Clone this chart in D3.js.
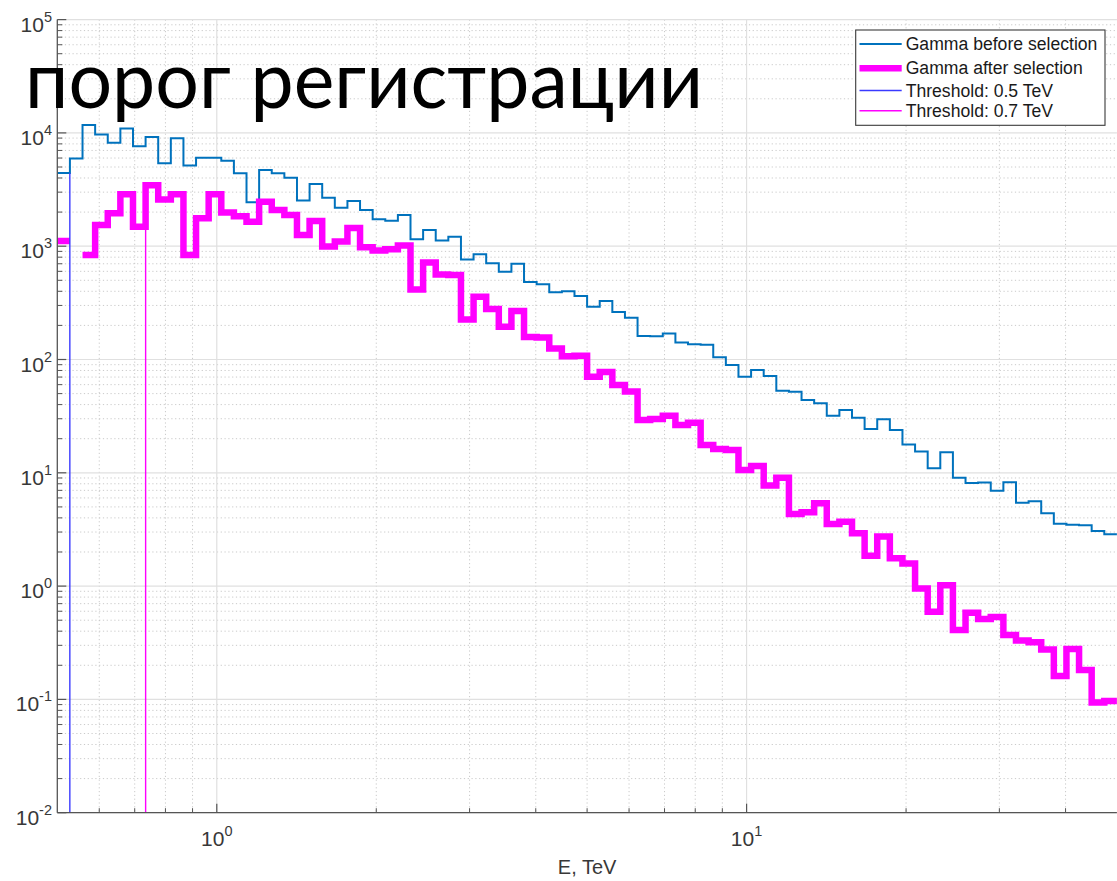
<!DOCTYPE html>
<html>
<head>
<meta charset="utf-8">
<script src="https://cdn.jsdelivr.net/npm/d3@7"></script>
<style>
  html, body { margin: 0; padding: 0; background: #fff; }
  svg { display: block; }
</style>
</head>
<body>
<svg id="chart" width="1117" height="881"></svg>
<script>
// Energy binning: logarithmic bins starting at 0.5 TeV
const energyMin = 0.5;
const energyMax = 50;
const binsPerDecade = 42;

// Counts per energy bin, before any event selection
const beforeCounts = [
  4430, 5940, 11740, 9680, 8200, 10940, 7620, 9200, 5390, 8960,
  5160, 6050, 6020, 5680, 4400, 2440, 4700, 4400, 4020, 2530,
  3540, 2680, 2190, 2510, 2090, 1730, 1680, 1890, 1150, 1390,
  1120, 1210, 763, 850, 706, 595, 701, 483, 461, 392,
  400, 363, 292, 328, 263, 234, 161, 160, 170, 141,
  136, 135, 104.6, 89.4, 70.5, 80.8, 71.5, 53.0, 52.0, 43.9,
  41.1, 31.9, 35.8, 30.6, 24.4, 29.7, 23.9, 17.8, 15.4, 10.96,
  15.2, 9.05, 8.13, 8.21, 6.95, 8.25, 5.45, 5.60, 4.39, 3.55,
  3.48, 3.44, 3.06, 2.87
];

// Counts per energy bin after the selection cuts (0 = empty bin)
const afterCounts = [
  1111, 0, 836, 1538, 1952, 2871, 1486, 3448, 2584, 2871,
  836, 1763, 2880, 1984, 1836, 1645, 2471, 2087, 1886, 1256,
  1669, 994, 1100, 1447, 978, 916, 939, 1014, 415, 718,
  563, 557, 225, 358, 279, 195, 268, 158, 156, 125,
  107, 108, 70.5, 77.6, 59.5, 52.2, 29.2, 29.8, 31.9, 26.4,
  27.7, 17.6, 16.2, 15.9, 10.6, 11.5, 7.73, 9.05, 4.33, 4.48,
  5.38, 3.53, 3.70, 2.92, 1.85, 2.74, 1.76, 1.58, 0.952, 0.594,
  1.02, 0.410, 0.582, 0.513, 0.534, 0.370, 0.331, 0.319, 0.276, 0.161,
  0.278, 0.182, 0.0939, 0.0968
];

// Registration thresholds, TeV
const thresholdEnergies = [0.528, 0.734];

const seriesNames = ["Gamma before selection", "Gamma after selection"];
const yTickExponents = [-2, -1, 0, 1, 2, 3, 4, 5];
const xTickExponents = [0, 1];
const xAxisTitle = "E, TeV";
const slideTitle = "порог регистрации";

// ---------------------------------------------------------------
const svg = d3.select("#chart");
const plot = { left: 57.3, right: 1116.9, top: 19.6, bottom: 812.7 };

const x = d3.scaleLog().domain([energyMin, energyMax]).range([plot.left, plot.right]);
const y = d3.scaleLog().domain([1e-2, 1e5]).range([plot.bottom, plot.top]);

const nBins = beforeCounts.length;
const edges = d3.range(nBins + 1).map(k => energyMin * Math.pow(10, k / binsPerDecade));

const colors = {
  before: "#0072BD",
  after: "#FF00FF",
  thrLow: "#3a3aff",
  thrHigh: "#FF00FF",
  axis: "#555555",
  text: "#383838"
};

svg.append("defs").append("clipPath").attr("id", "plotClip")
  .append("rect")
  .attr("x", plot.left).attr("y", plot.top - 4)
  .attr("width", plot.right - plot.left + 4).attr("height", plot.bottom - plot.top + 4);

// ---- grid ----
const grid = svg.append("g");
const yMinor = [];
for (let e = -2; e < 5; e++) for (let m = 2; m <= 9; m++) yMinor.push(m * Math.pow(10, e));
const xMinor = [0.6, 0.7, 0.8, 0.9, 2, 3, 4, 5, 6, 7, 8, 9, 20, 30, 40];

grid.selectAll(".ymin").data(yMinor).join("line")
  .attr("x1", plot.left).attr("x2", plot.right)
  .attr("y1", d => y(d)).attr("y2", d => y(d))
  .attr("stroke", "#c4c4c4").attr("stroke-width", 0.9)
  .attr("stroke-dasharray", "1.2,2.6");
grid.selectAll(".xmin").data(xMinor).join("line")
  .attr("y1", plot.top).attr("y2", plot.bottom)
  .attr("x1", d => x(d)).attr("x2", d => x(d))
  .attr("stroke", "#c4c4c4").attr("stroke-width", 0.9)
  .attr("stroke-dasharray", "1.2,2.6");
grid.selectAll(".ymaj").data(yTickExponents).join("line")
  .attr("x1", plot.left).attr("x2", plot.right)
  .attr("y1", d => y(Math.pow(10, d))).attr("y2", d => y(Math.pow(10, d)))
  .attr("stroke", "#e0e0e0").attr("stroke-width", 1.2);
grid.selectAll(".xmaj").data(xTickExponents).join("line")
  .attr("y1", plot.top).attr("y2", plot.bottom)
  .attr("x1", d => x(Math.pow(10, d))).attr("x2", d => x(Math.pow(10, d)))
  .attr("stroke", "#e0e0e0").attr("stroke-width", 1.2);

// ---- histograms drawn as stairs ----
function stairPoints(counts) {
  const pts = [];
  counts.forEach((c, i) => {
    pts.push({ e: edges[i], v: c });
    pts.push({ e: edges[i + 1], v: c });
  });
  return pts;
}
const stairLine = d3.line()
  .defined(d => d.v > 0)
  .x(d => x(d.e))
  .y(d => y(d.v));

const marks = svg.append("g").attr("clip-path", "url(#plotClip)");

marks.append("path")
  .datum(stairPoints(beforeCounts))
  .attr("d", stairLine)
  .attr("fill", "none")
  .attr("stroke", colors.before)
  .attr("stroke-width", 2)
  .attr("stroke-linejoin", "miter");

marks.append("path")
  .datum(stairPoints(afterCounts))
  .attr("d", stairLine)
  .attr("fill", "none")
  .attr("stroke", colors.after)
  .attr("stroke-width", 6.5)
  .attr("stroke-linejoin", "miter");

// ---- threshold markers, rising to the bin just below each threshold ----
function binBelow(energy) {
  return Math.round(Math.log10(energy / energyMin) * binsPerDecade) - 1;
}
const thresholdSpecs = [
  { e: thresholdEnergies[0], top: beforeCounts[binBelow(thresholdEnergies[0])], color: colors.thrLow },
  { e: thresholdEnergies[1], top: afterCounts[binBelow(thresholdEnergies[1])], color: colors.thrHigh }
];
marks.selectAll(".thr").data(thresholdSpecs).join("line")
  .attr("x1", d => x(d.e)).attr("x2", d => x(d.e))
  .attr("y1", y(1e-2)).attr("y2", d => y(d.top))
  .attr("stroke", d => d.color)
  .attr("stroke-width", 1.4);

// ---- axes ----
const axes = svg.append("g");
axes.append("line")
  .attr("x1", plot.left).attr("x2", plot.left)
  .attr("y1", plot.top).attr("y2", plot.bottom)
  .attr("stroke", colors.axis).attr("stroke-width", 1.3);
axes.append("line")
  .attr("x1", plot.left).attr("x2", plot.right)
  .attr("y1", plot.bottom).attr("y2", plot.bottom)
  .attr("stroke", colors.axis).attr("stroke-width", 1.3);

// tick marks point into the plot
axes.selectAll(".ytk").data(yTickExponents).join("line")
  .attr("x1", plot.left).attr("x2", plot.left + 9)
  .attr("y1", d => y(Math.pow(10, d))).attr("y2", d => y(Math.pow(10, d)))
  .attr("stroke", colors.axis).attr("stroke-width", 1.2);
axes.selectAll(".ytkm").data(yMinor).join("line")
  .attr("x1", plot.left).attr("x2", plot.left + 5)
  .attr("y1", d => y(d)).attr("y2", d => y(d))
  .attr("stroke", colors.axis).attr("stroke-width", 1);
axes.selectAll(".xtk").data(xTickExponents).join("line")
  .attr("y1", plot.bottom).attr("y2", plot.bottom - 9)
  .attr("x1", d => x(Math.pow(10, d))).attr("x2", d => x(Math.pow(10, d)))
  .attr("stroke", colors.axis).attr("stroke-width", 1.2);
axes.selectAll(".xtkm").data(xMinor).join("line")
  .attr("y1", plot.bottom).attr("y2", plot.bottom - 4.5)
  .attr("x1", d => x(d)).attr("x2", d => x(d))
  .attr("stroke", colors.axis).attr("stroke-width", 1);

const font = "'Liberation Sans', Arial, Helvetica, sans-serif";

function powerLabel(sel, exp) {
  sel.append("tspan").text("10");
  sel.append("tspan").attr("dy", -10).attr("font-size", 14.5).text(String(exp));
}

axes.selectAll(".ylab").data(yTickExponents).join("text")
  .attr("x", 52)
  .attr("y", d => y(Math.pow(10, d)) + 12)
  .attr("text-anchor", "end")
  .attr("font-family", font)
  .attr("font-size", 21)
  .attr("fill", colors.text)
  .each(function (d) { powerLabel(d3.select(this), d); });

axes.selectAll(".xlab").data(xTickExponents).join("text")
  .attr("x", d => x(Math.pow(10, d)))
  .attr("y", 846)
  .attr("text-anchor", "middle")
  .attr("font-family", font)
  .attr("font-size", 21)
  .attr("fill", colors.text)
  .each(function (d) { powerLabel(d3.select(this), d); });

svg.append("text")
  .attr("x", (plot.left + plot.right) / 2)
  .attr("y", 874)
  .attr("text-anchor", "middle")
  .attr("font-family", font)
  .attr("font-size", 20)
  .attr("fill", colors.text)
  .text(xAxisTitle);

// ---- legend ----
const fmtThr = d3.format(".1f");
const legendItems = [
  { label: seriesNames[0], color: colors.before, width: 2 },
  { label: seriesNames[1], color: colors.after, width: 6.5 },
  { label: `Threshold: ${fmtThr(thresholdEnergies[0])} TeV`, color: colors.thrLow, width: 1.4 },
  { label: `Threshold: ${fmtThr(thresholdEnergies[1])} TeV`, color: colors.thrHigh, width: 1.4 }
];
const legendRows = [44, 68.3, 90.5, 110.7];
const legend = svg.append("g");
legend.append("rect")
  .attr("x", 855.7).attr("y", 30)
  .attr("width", 249.3).attr("height", 95.3)
  .attr("fill", "#ffffff")
  .attr("stroke", "#3a3a3a").attr("stroke-width", 1.1);
const rows = legend.selectAll(".row").data(legendItems).join("g")
  .attr("transform", (d, i) => `translate(0,${legendRows[i]})`);
rows.append("line")
  .attr("x1", 859.5).attr("x2", 901.7).attr("y1", 0).attr("y2", 0)
  .attr("stroke", d => d.color).attr("stroke-width", d => d.width);
rows.append("text")
  .attr("x", 905.7).attr("y", 6)
  .attr("font-family", font).attr("font-size", 17.6)
  .attr("fill", "#1a1a1a")
  .text(d => d.label);

// ---- slide caption over the chart ----
svg.append("text")
  .attr("x", 25).attr("y", 108)
  .attr("font-family", "Lato, 'Open Sans', sans-serif")
  .attr("font-size", 80)
  .attr("fill", "#000")
  .attr("textLength", 678)
  .attr("lengthAdjust", "spacingAndGlyphs")
  .text(slideTitle);
</script>
</body>
</html>
